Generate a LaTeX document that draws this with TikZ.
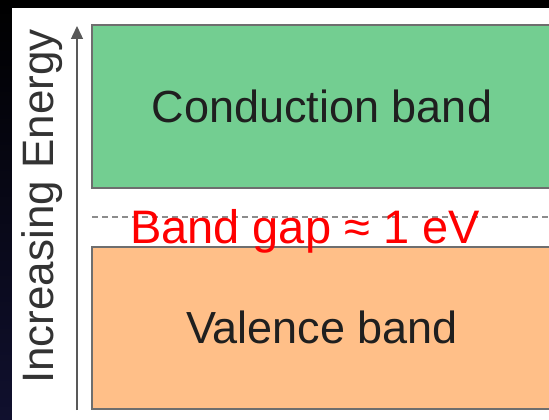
\documentclass[tikz,border=0pt]{standalone}
\usepackage{fontspec}
\setmainfont{Liberation Sans}
\usetikzlibrary{arrows.meta}
\definecolor{bandgreen}{HTML}{73CE91}
\definecolor{bandorange}{HTML}{FFBF88}
\definecolor{boxline}{HTML}{6E6E6E}
\definecolor{navy}{HTML}{10102E}
\tikzset{
  band/.style={draw=boxline, line width=1.6pt, rectangle},
  bandlabel/.style={anchor=base, inner sep=0pt, text=black!88, font=\fontsize{45}{54}\selectfont},
  gaplabel/.style={anchor=base, inner sep=0pt, text=red, font=\fontsize{47}{56}\selectfont},
  axislabel/.style={anchor=base, inner sep=0pt, rotate=90, text=black!80, font=\fontsize{44}{52}\selectfont},
  gapline/.style={draw=black!45, line width=1.3pt, dash pattern=on 6pt off 4pt},
  axis/.style={draw=black!65, line width=1.4pt, -{Triangle[length=13pt,width=12pt]}}
}
\begin{document}
\begin{tikzpicture}[x=1pt,y=-1pt]
  \useasboundingbox (0,0) rectangle (549,420);
  \fill[black] (0,0) rectangle (549,420);
  \shade[top color=black, bottom color=navy] (0,0) rectangle (12,420);
  \fill[white] (12,8) rectangle (549,420);
  % bands
  \draw[band, fill=bandgreen] (92,25) rectangle (556,188);
  \draw[band, fill=bandorange] (92,247) rectangle (556,409);
  % gap line
  \coordinate (gl) at (92,217);
  \coordinate (gr) at (549,217);
  \draw[gapline] (gl) -- (gr);
  % labels
  \node[bandlabel] (cblabel) at (322,122) {Conduction band};
  \node[bandlabel] (vblabel) at (322,343) {Valence band};
  \node[gaplabel] (gaplabel) at (305,243) {Band gap ≈ 1 eV};
  % axis
  \coordinate (ab) at (77,410);
  \coordinate (at) at (77,26);
  \draw[axis] (ab) -- (at);
  \node[axislabel] (axlabel) at (53,206.5) {Increasing Energy};
\end{tikzpicture}
\end{document}
